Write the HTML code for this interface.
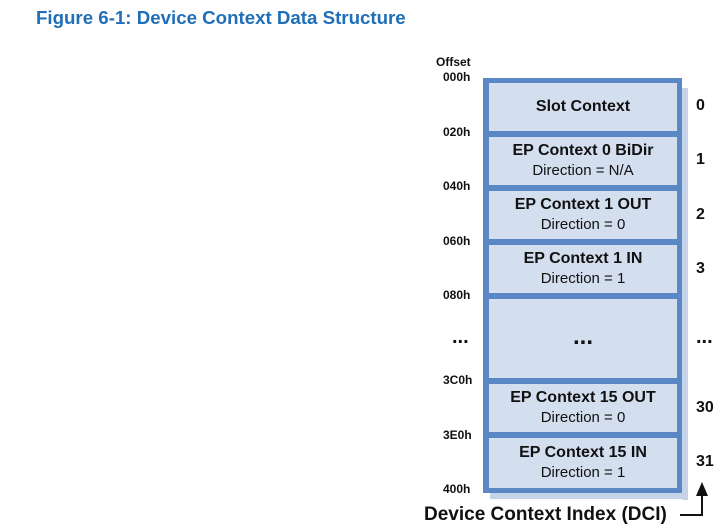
<!DOCTYPE html>
<html><head><style>
body{margin:0;width:728px;height:532px;background:#fff;position:relative;overflow:hidden;font-family:"Liberation Sans",Arial,sans-serif}
.t{position:absolute;white-space:nowrap}
.title{left:36px;top:7px;font-size:18.7px;font-weight:bold;color:#1f6fb8}
.off{font-size:12px;font-weight:bold;color:#111;left:443px}
.idx{font-size:16px;font-weight:bold;color:#111;left:696px}
#box{position:absolute;left:483px;top:78px;width:199px;height:415px;background:#5b87c5}
#shadow{position:absolute;left:682px;top:88px;width:6px;height:412px;background:#c5d3e8}
#shadow2{position:absolute;left:490px;top:493px;width:198px;height:6px;background:#c5d3e8}
.cell{position:absolute;left:489px;width:188px;background:#d3deef;text-align:center;color:#111;font-size:15px;display:flex;flex-direction:column;justify-content:center;line-height:20px}
.cell b{font-size:16px}
</style></head><body>
<div class="t title">Figure 6-1: Device Context Data Structure</div>
<div id="shadow"></div><div id="shadow2"></div>
<div id="box"></div>
<div class="cell" style="top:83px;height:48px"><b>Slot Context</b></div>
<div class="cell" style="top:137px;height:48px"><b>EP Context 0 BiDir</b>Direction = N/A</div>
<div class="cell" style="top:191px;height:48px"><b>EP Context 1 OUT</b>Direction = 0</div>
<div class="cell" style="top:245px;height:48px"><b>EP Context 1 IN</b>Direction = 1</div>
<div class="cell" style="top:299px;height:79px"><b style="font-size:24px;margin-top:-4px">...</b></div>
<div class="cell" style="top:384px;height:48px"><b>EP Context 15 OUT</b>Direction = 0</div>
<div class="cell" style="top:438px;height:50px"><b>EP Context 15 IN</b>Direction = 1</div>
<div class="t off" style="left:436px;top:55px">Offset</div>
<div class="t off" style="top:70px">000h</div>
<div class="t off" style="top:125px">020h</div>
<div class="t off" style="top:179px">040h</div>
<div class="t off" style="top:234px">060h</div>
<div class="t off" style="top:288px">080h</div>
<div class="t off" style="top:326px;font-size:20px;left:452px">...</div>
<div class="t off" style="top:373px">3C0h</div>
<div class="t off" style="top:428px">3E0h</div>
<div class="t off" style="top:482px">400h</div>
<div class="t idx" style="top:97px">0</div>
<div class="t idx" style="top:151px">1</div>
<div class="t idx" style="top:206px">2</div>
<div class="t idx" style="top:260px">3</div>
<div class="t idx" style="top:326px;font-size:20px">...</div>
<div class="t idx" style="top:399px">30</div>
<div class="t idx" style="top:453px">31</div>
<div class="t" style="left:424px;top:504px;font-size:19px;font-weight:bold;color:#111">Device Context Index (DCI)</div>
<svg style="position:absolute;left:0;top:0" width="728" height="532">
<line x1="680" y1="515" x2="702" y2="515" stroke="#111" stroke-width="2"/>
<line x1="702" y1="516" x2="702" y2="494" stroke="#111" stroke-width="2"/>
<polygon points="696,496 708,496 702,482" fill="#111"/>
</svg>
</body></html>
